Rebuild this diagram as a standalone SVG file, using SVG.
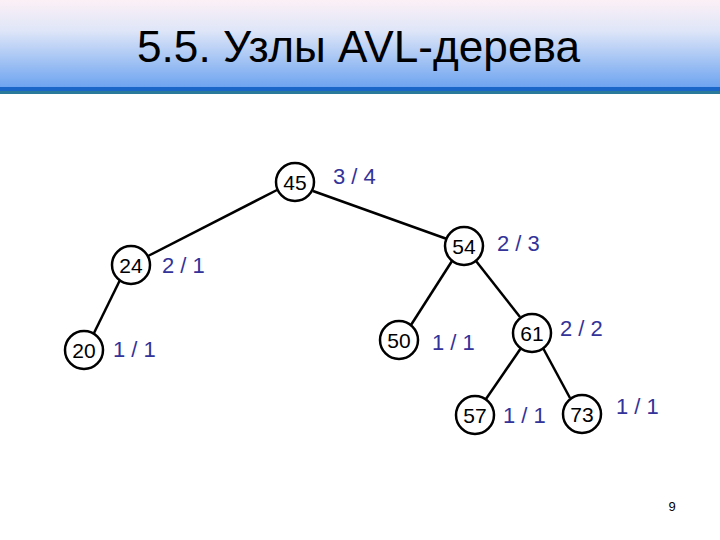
<svg xmlns="http://www.w3.org/2000/svg" width="720" height="540" viewBox="0 0 720 540">
<defs>
<linearGradient id="hdr" x1="0" y1="0" x2="0" y2="1">
<stop offset="0" stop-color="#fcf0f6"/>
<stop offset="0.35" stop-color="#dfe6f8"/>
<stop offset="1" stop-color="#6ea4f0"/>
</linearGradient>
<style>
.node circle{fill:#fff;stroke:#000;stroke-width:2.5}
.node text.v{font-family:"Liberation Sans",Arial,sans-serif;font-size:21px;fill:#000;text-anchor:middle}
.node text.b{font-family:"Liberation Sans",Arial,sans-serif;font-size:22px;fill:#333399}
#edges line{stroke:#000;stroke-width:2.5}
</style>
</defs>
<rect x="0" y="0" width="720" height="540" fill="#fff"/>
<rect x="0" y="0" width="720" height="87" fill="url(#hdr)"/>
<rect x="0" y="87" width="720" height="4" fill="#1a66c8"/>
<rect x="0" y="91" width="720" height="3" fill="#2a7a9c"/>
<text x="137" y="62" font-family="'Liberation Sans',Arial,sans-serif" font-size="45" fill="#000" textLength="443" lengthAdjust="spacingAndGlyphs">5.5. Узлы AVL-дерева</text>
<g id="edges">
<line x1="277" y1="190" x2="148" y2="256"/>
<line x1="313" y1="191" x2="447" y2="239"/>
<line x1="120" y1="280" x2="94" y2="333"/>
<line x1="452" y1="261" x2="411" y2="325"/>
<line x1="476" y1="261" x2="520" y2="317"/>
<line x1="521" y1="348" x2="486" y2="399"/>
<line x1="543" y1="348" x2="570" y2="398"/>
</g>
<g id="n45" class="node"><circle cx="295" cy="182" r="19"/><text class="v" x="295" y="190">45</text><text class="b" x="333" y="184">3 / 4</text></g>
<g id="n24" class="node"><circle cx="131" cy="265" r="19"/><text class="v" x="131" y="273">24</text><text class="b" x="162" y="273">2 / 1</text></g>
<g id="n20" class="node"><circle cx="84" cy="350" r="19"/><text class="v" x="84" y="358">20</text><text class="b" x="113" y="357">1 / 1</text></g>
<g id="n54" class="node"><circle cx="464" cy="246" r="19"/><text class="v" x="464" y="254">54</text><text class="b" x="497" y="251">2 / 3</text></g>
<g id="n50" class="node"><circle cx="399" cy="340" r="19"/><text class="v" x="399" y="348">50</text><text class="b" x="432" y="350">1 / 1</text></g>
<g id="n61" class="node"><circle cx="532" cy="333" r="19"/><text class="v" x="532" y="341">61</text><text class="b" x="560" y="336">2 / 2</text></g>
<g id="n57" class="node"><circle cx="475" cy="415" r="19"/><text class="v" x="475" y="423">57</text><text class="b" x="503" y="423">1 / 1</text></g>
<g id="n73" class="node"><circle cx="582" cy="414" r="19"/><text class="v" x="582" y="422">73</text><text class="b" x="616" y="414">1 / 1</text></g>
<text x="672" y="511" font-family="'Liberation Sans',Arial,sans-serif" font-size="13" fill="#000" text-anchor="middle">9</text>
</svg>
